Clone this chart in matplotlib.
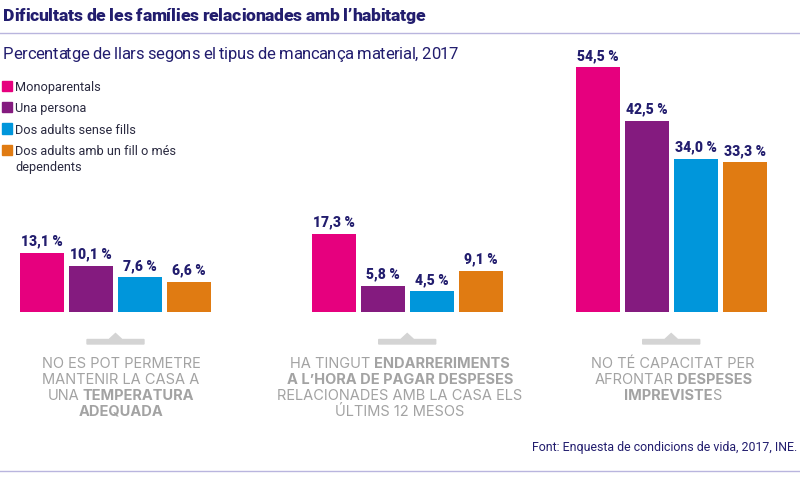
import matplotlib
matplotlib.use("Agg")
import matplotlib.pyplot as plt
from matplotlib.patches import Rectangle, Polygon
from matplotlib.lines import Line2D

# ---------------- data ----------------
series = ["Monoparentals", "Una persona", "Dos adults sense fills",
          "Dos adults amb un fill o més\ndependents"]
colors = ["#e6007e", "#841b7f", "#0096db", "#e07b12"]

temperatura = [13.1, 10.1, 7.6, 6.6]
endarreriments = [17.3, 5.8, 4.5, 9.1]
imprevistes = [54.5, 42.5, 34.0, 33.3]
groups = [temperatura, endarreriments, imprevistes]

# category labels: list of lines, each line a list of (text, bold, space_before)
cat_labels = [
    [[("NO ES POT PERMETRE", False, True)],
     [("MANTENIR LA CASA A", False, True)],
     [("UNA", False, True), ("TEMPERATURA", True, True)],
     [("ADEQUADA", True, True)]],
    [[("HA TINGUT", False, True), ("ENDARRERIMENTS", True, True)],
     [("A L\u2019HORA DE PAGAR DESPESES", True, True)],
     [("RELACIONADES AMB LA CASA ELS", False, True)],
     [("ÚLTIMS 12 MESOS", False, True)]],
    [[("NO TÉ CAPACITAT PER", False, True)],
     [("AFRONTAR", False, True), ("DESPESES", True, True)],
     [("IMPREVISTE", True, True), ("S", False, False)]],
]

title = "Dificultats de les famílies relacionades amb l\u2019habitatge"
subtitle = "Percentatge de llars segons el tipus de mancança material, 2017"
source = "Font: Enquesta de condicions de vida, 2017, INE."

# ---------------- style ----------------
NAVY = "#221d6e"
GRAY = "#a3a3a3"
MARK = "#d4d4d4"
LINE = "#b9b5de"
W, H = 800, 479

fig = plt.figure(figsize=(W / 100, H / 100), dpi=100)
fig.patch.set_facecolor("white")
renderer = fig.canvas.get_renderer()


def fx(x):
    return x / W


def fy(y):
    return 1 - y / H


def fit(t, target):
    w = t.get_window_extent(renderer).width
    t.set_fontsize(t.get_fontsize() * target / w)


def width_of(s, **kw):
    t = fig.text(0, 0, s, **kw)
    w = t.get_window_extent(renderer).width
    t.remove()
    return w


def tracked(s, x0, ybase, target, **kw):
    """Draw text char by char with adjusted letter spacing to fit target width."""
    wx = width_of("X", **kw)
    starts = [width_of(s[:i] + "X", **kw) - wx if i > 0 else 0.0
              for i in range(len(s))]
    natural = width_of(s, **kw)
    track = (natural - target) / (len(s) - 1)
    for i, ch in enumerate(s):
        if ch == " ":
            continue
        fig.text(fx(x0 + starts[i] - i * track), fy(ybase), ch,
                 va="baseline", ha="left", **kw)


# header
tracked(title, 3, 20.7, 422, fontsize=12.6, fontweight="heavy",
        family=["Roboto", "DejaVu Sans"], color=NAVY)
fig.add_artist(Line2D([0, 1], [fy(33), fy(33)], color=LINE, lw=1.0,
                      transform=fig.transFigure))
tracked(subtitle, 3, 59.3, 455, fontsize=12.0,
        family=["Roboto", "DejaVu Sans"], color=NAVY)

# legend
leg_base = [90.7, 112, 133.5, 155]
leg_size = None
for i, (name, c) in enumerate(zip(series, colors)):
    yb = leg_base[i]
    fig.patches.append(Rectangle((fx(2), fy(yb)), 10 / W, 10 / H, color=c,
                                 transform=fig.transFigure))
    t = fig.text(fx(15), fy(yb), name, fontsize=9.6, linespacing=1.25,
                 family=["Roboto", "DejaVu Sans"], color="#2a2a40",
                 va="baseline")
    if leg_size is None:
        fit(t, 86)
        leg_size = t.get_fontsize()
    else:
        t.set_fontsize(leg_size)
    if "\n" in name:
        t.set_va("top")
        t.set_position((fx(15), fy(yb - 10)))

# bars
base_px = 311.5
ppu = 4.48
ymax = 60
ax_left = [20, 311.7, 575.7]
ax_w = 191
label_x = [121, 400, 673]
for g, vals in enumerate(groups):
    ax = fig.add_axes([fx(ax_left[g]), fy(base_px), ax_w / W, ymax * ppu / H])
    ax.set_xlim(-0.45, 3.45)
    ax.set_ylim(0, ymax)
    ax.axis("off")
    xs = list(range(len(vals)))
    ax.bar(xs, vals, width=0.9, color=colors, linewidth=0)
    for x, v in zip(xs, vals):
        ax.annotate(f"{v:.1f}".replace(".", ",") + " %", (x, v),
                    xytext=(0, 4.5), textcoords="offset pixels",
                    ha="center", va="bottom", fontsize=10,
                    fontweight="heavy", family=["Roboto", "DejaVu Sans"],
                    color=NAVY, annotation_clip=False)

    # marker (bar with small triangle)
    cx = ax_left[g] + ax_w / 2
    pts = [(-28.5, 344), (-28.5, 339.5), (-6.5, 339.5), (0, 333.5),
           (6.5, 339.5), (28.5, 339.5), (28.5, 344)]
    fig.patches.append(Polygon([(fx(cx + dx), fy(yy)) for dx, yy in pts],
                               closed=True, color=MARK,
                               transform=fig.transFigure))

# category labels
cat_base = [368.3, 384.2, 400, 415.8]
props = dict(fontsize=10.5, family=["Inter", "DejaVu Sans"], color=GRAY)


def space_width(bold):
    wt = "bold" if bold else "normal"
    return (width_of("X X", fontweight=wt, **props)
            - width_of("XX", fontweight=wt, **props))


sp = {False: space_width(False), True: space_width(True)}
for g, lines in enumerate(cat_labels):
    for li, segs in enumerate(lines):
        texts = []
        total = 0
        for k, (s, bold, spb) in enumerate(segs):
            t = fig.text(0, fy(cat_base[li]), s,
                         fontweight="bold" if bold else "normal",
                         va="baseline", ha="left", **props)
            w = t.get_window_extent(renderer).width
            gap = sp[bold] if (k > 0 and spb) else 0
            texts.append((t, w, gap))
            total += w + gap
        x = label_x[g] - total / 2
        for t, w, gap in texts:
            x += gap
            t.set_x(fx(x))
            x += w

# source and bottom rule
t = fig.text(fx(797), fy(451), source, fontsize=9.5, ha="right",
             va="baseline", family=["Roboto", "DejaVu Sans"], color=NAVY)
fit(t, 266)
fig.add_artist(Line2D([0, 1], [fy(471), fy(471)], color=LINE, lw=1.0,
                      transform=fig.transFigure))

fig.savefig("out.png", dpi=100, facecolor="white")
